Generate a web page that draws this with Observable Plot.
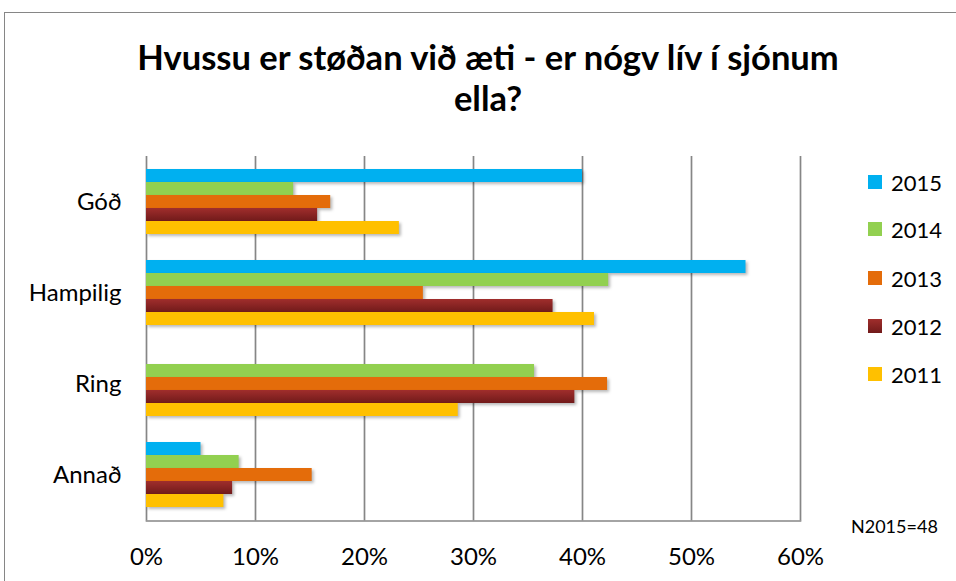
<!DOCTYPE html>
<html>
<head>
<meta charset="utf-8">
<script src="https://cdn.jsdelivr.net/npm/d3@7"></script>
<script src="https://cdn.jsdelivr.net/npm/@observablehq/plot@0.6"></script>
<style>
  html, body { margin: 0; padding: 0; background: #fff; }
  body { width: 956px; height: 581px; position: relative; overflow: hidden; font-family: Lato, "DejaVu Sans", sans-serif; color: #000; }
  #border { position: absolute; left: 4px; top: 12px; width: 1000px; height: 1000px; border-left: 1.5px solid #868686; border-top: 1.5px solid #868686; }
  #title { position: absolute; left: 0; top: 36px; width: 976px; text-align: center; font-weight: 700; font-size: 34.5px; line-height: 41px; }
  .layer { position: absolute; left: 0; top: 0; }
  #legend { position: absolute; left: 868px; top: 0; }
  .item { position: absolute; left: 0; display: flex; align-items: center; white-space: nowrap; font-size: 22px; }
  .sw { width: 14px; height: 14px; margin-right: 9px; }
  #note { position: absolute; left: 851px; top: 515px; font-size: 18px; }
  .bars rect { filter: drop-shadow(2px 2px 1.5px rgba(0,0,0,0.28)); }
</style>
</head>
<body>
<div id="border"></div>
<div id="title">Hvussu er støðan við æti - er nógv lív í sjónum<br>ella?</div>
<div id="grid" class="layer"></div>
<div id="bars" class="layer"></div>
<div id="legend"></div>
<div id="note">N2015=48</div>
<script>
// Data (percent)
const categories = ["Góð", "Hampilig", "Ring", "Annað"];
const years = ["2015", "2014", "2013", "2012", "2011"];
const v2015 = [40.0, 55.0, 0, 5.0];
const v2014 = [13.5, 42.4, 35.6, 8.5];
const v2013 = [16.9, 25.4, 42.3, 15.2];
const v2012 = [15.7, 37.3, 39.3, 7.9];
const v2011 = [23.2, 41.1, 28.6, 7.1];
const xTicks = [0, 10, 20, 30, 40, 50, 60];
const colors = ["#00b0f0", "#92d050", "#e46c0a", "url(#g2012)", "#ffc000"];
const swatch = ["#00b0f0", "#92d050", "#e46c0a", "linear-gradient(#a02e2c, #711a1a)", "#ffc000"];

const series = [v2015, v2014, v2013, v2012, v2011];
const rows = [];
categories.forEach((c, i) => years.forEach((y, j) => rows.push({category: c, year: y, value: series[j][i]})));

const common = {
  width: 956,
  height: 581,
  marginTop: 156,
  marginBottom: 60.5,
  marginLeft: 146,
  marginRight: 156,
  style: {fontFamily: "Lato, sans-serif", color: "#000", background: "transparent", overflow: "visible"}
};
const bandPad = {paddingInner: 0.238, paddingOuter: 0.119};

// Layer 1: frame, gridlines, axes
const grid = Plot.plot({
  ...common,
  x: {domain: [0, 60]},
  y: {domain: categories, ...bandPad},
  marks: [
    Plot.ruleX(xTicks, {stroke: "#868686", strokeWidth: 1.7}),
    Plot.frame({anchor: "bottom", stroke: "#868686", strokeWidth: 1.7}),
    Plot.axisX({ticks: xTicks, tickFormat: d => d + "%", tickSize: 0, tickPadding: 27, fontSize: 24, label: null}),
    Plot.axisY({tickSize: 0, tickPadding: 25, fontSize: 24, label: null})
  ]
});
document.getElementById("grid").appendChild(grid);

// Layer 2: bars, faceted by category
const bars = Plot.plot({
  ...common,
  x: {domain: [0, 60], axis: null},
  y: {domain: years, axis: null, padding: 0},
  fy: {domain: categories, axis: null, ...bandPad},
  color: {domain: years, range: colors},
  marks: [
    Plot.barX(rows, {x: "value", y: "year", fy: "category", fill: "year", className: "bars"})
  ]
});
const ns = "http://www.w3.org/2000/svg";
const defs = document.createElementNS(ns, "defs");
defs.innerHTML = '<linearGradient id="g2012" x1="0" y1="0" x2="0" y2="1"><stop offset="0" stop-color="#a02e2c"/><stop offset="1" stop-color="#711a1a"/></linearGradient>';
bars.insertBefore(defs, bars.firstChild);
document.getElementById("bars").appendChild(bars);

const legendY = [182, 229, 278, 326, 374];
const legend = document.getElementById("legend");
years.forEach((y, j) => {
  const it = document.createElement("div");
  it.className = "item";
  it.style.top = (legendY[j] - 14) + "px";
  it.style.height = "28px";
  it.innerHTML = `<div class="sw" style="background:${swatch[j]}"></div><span>${y}</span>`;
  legend.appendChild(it);
});
</script>
</body>
</html>
